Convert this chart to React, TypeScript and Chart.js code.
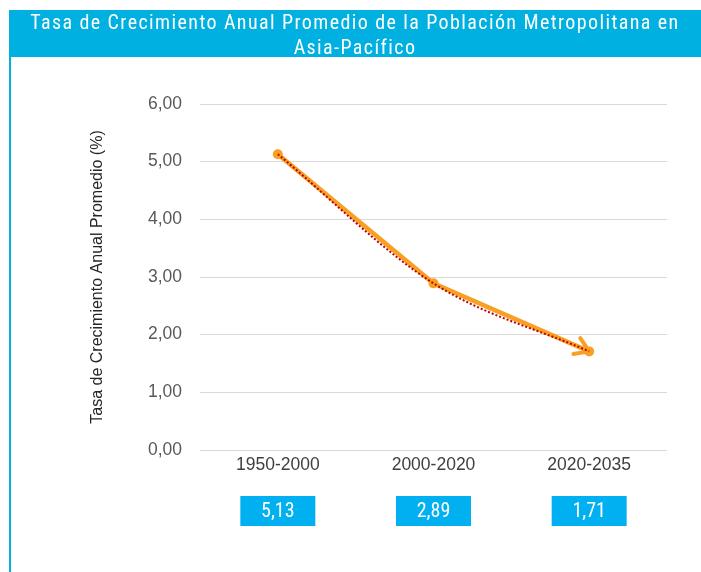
import React, { useEffect, useRef } from "react";
import { Chart, registerables } from "chart.js";

Chart.register(...registerables);

const titleLines = [
  "Tasa de Crecimiento Anual Promedio de la Población Metropolitana en",
  "Asia-Pacífico",
];
const yAxisTitle = "Tasa de Crecimiento Anual Promedio (%)";
const categories = ["1950-2000", "2000-2020", "2020-2035"];
const growthValues = [5.13, 2.89, 1.71];
const trendValues = [5.13, 2.89, 1.71];

const BLUE_TITLE = "#00B0E0";
const BLUE_BOX = "#00B0F0";
const ORANGE = "#F8A024";
const TREND = "#C00000";

const fmt = (v: number) => v.toFixed(2).replace(".", ",");

export default function App() {
  const ref = useRef<HTMLCanvasElement | null>(null);

  useEffect(() => {
    if (!ref.current) return;
    const arrowPlugin = {
      id: "arrowHead",
      afterDatasetDraw(chart: any, args: any) {
        if (args.index !== 1) return;
        const pts = args.meta.data;
        if (pts.length < 2) return;
        const a = pts[pts.length - 2];
        const b = pts[pts.length - 1];
        const ang = Math.atan2(b.y - a.y, b.x - a.x);
        const len = 16;
        const spread = Math.PI / 5.5;
        const ctx = chart.ctx;
        ctx.save();
        ctx.strokeStyle = ORANGE;
        ctx.lineWidth = 4;
        ctx.lineCap = "round";
        ctx.lineJoin = "round";
        ctx.beginPath();
        ctx.moveTo(b.x - len * Math.cos(ang - spread), b.y - len * Math.sin(ang - spread));
        ctx.lineTo(b.x, b.y);
        ctx.lineTo(b.x - len * Math.cos(ang + spread), b.y - len * Math.sin(ang + spread));
        ctx.stroke();
        ctx.restore();
      },
    };
    const boxPlugin = {
      id: "valueBoxes",
      afterDraw(chart: any) {
        const ctx = chart.ctx;
        const xs = chart.scales.x;
        ctx.save();
        ctx.font = "20px 'Roboto Condensed', Roboto, sans-serif";
        ctx.textAlign = "center";
        ctx.textBaseline = "middle";
        growthValues.forEach((v, i) => {
          const cx = xs.getPixelForValue(i);
          const w = 75;
          const h = 30;
          const top = 496;
          ctx.fillStyle = BLUE_BOX;
          ctx.fillRect(cx - w / 2, top, w, h);
          ctx.fillStyle = "#FFFFFF";
          ctx.fillText(fmt(v), cx, top + h / 2 + 1);
        });
        ctx.restore();
      },
    };
    const chart = new Chart(ref.current, {
      type: "line",
      data: {
        labels: categories,
        datasets: [
          {
            label: "Tendencia",
            data: trendValues,
            borderColor: TREND,
            borderWidth: 2,
            borderDash: [2, 2],
            pointRadius: 0,
            cubicInterpolationMode: "monotone",
            fill: false,
          },
          {
            label: "Tasa",
            data: growthValues,
            borderColor: ORANGE,
            backgroundColor: ORANGE,
            borderWidth: 4.5,
            pointRadius: 5,
            pointBackgroundColor: ORANGE,
            pointBorderColor: ORANGE,
            pointBorderWidth: 0,
            tension: 0,
            fill: false,
          },
        ],
      },
      options: {
        responsive: false,
        animation: false,
        layout: { padding: { left: 0, top: 104, right: 34, bottom: 0 } },
        plugins: {
          legend: { display: false },
          tooltip: { enabled: false },
          title: { display: false },
        },
        scales: {
          x: {
            offset: true,
            grid: { display: false, drawTicks: false },
            border: { display: false },
            ticks: {
              color: "#404040",
              font: { family: "'Liberation Sans', Arial, sans-serif", size: 17.5 },
              padding: 5,
              maxRotation: 0,
            },
            afterFit(scale: any) {
              scale.height = 122;
            },
          },
          y: {
            min: 0,
            max: 6,
            ticks: {
              stepSize: 1,
              color: "#595959",
              font: { family: "'Liberation Sans', Arial, sans-serif", size: 17.5 },
              padding: 18,
              callback: (v: any) => fmt(Number(v)),
            },
            grid: { color: "#D9D9D9", lineWidth: 1, drawTicks: false },
            border: { display: false },
            title: {
              display: true,
              text: yAxisTitle,
              color: "#262626",
              font: { family: "'Liberation Sans', Arial, sans-serif", size: 16 },
              padding: { top: 88, bottom: 0 },
            },
            afterFit(scale: any) {
              scale.width = 200;
            },
          },
        },
      },
      plugins: [arrowPlugin, boxPlugin],
    });
    return () => chart.destroy();
  }, []);

  return (
    <div
      style={{
        position: "fixed",
        left: 0,
        top: 0,
        width: 701,
        height: 572,
        background: "#FFFFFF",
        overflow: "hidden",
      }}
    >
      <canvas
        ref={ref}
        width={701}
        height={572}
        style={{ position: "absolute", left: 0, top: 0, width: 701, height: 572 }}
      />
      <div
        style={{
          position: "absolute",
          left: 9,
          top: 10,
          width: 692,
          height: 47,
          background: BLUE_TITLE,
          color: "#FFFFFF",
          fontFamily: "'Roboto Condensed', Roboto, sans-serif",
          fontSize: 20,
          lineHeight: "25px",
          textAlign: "center",
          paddingTop: 0,
          boxSizing: "border-box",
          letterSpacing: 1.4,
        }}
      >
        {titleLines.map((t, i) => (
          <div key={i} style={{ whiteSpace: "nowrap" }}>{t}</div>
        ))}
      </div>
      <div
        style={{
          position: "absolute",
          left: 9,
          top: 57,
          width: 2,
          height: 515,
          background: BLUE_TITLE,
        }}
      />
    </div>
  );
}
